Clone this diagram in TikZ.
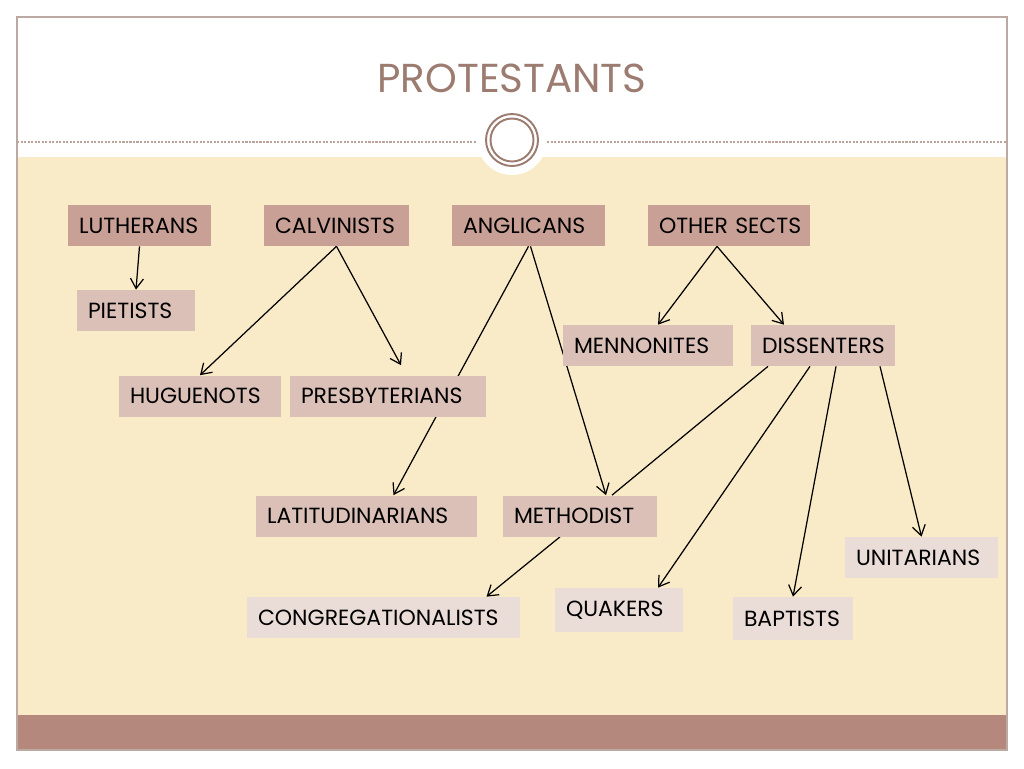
\documentclass[tikz,border=0pt]{standalone}
\usepackage{fontspec}
\setmainfont{Poppins}
\usetikzlibrary{arrows.meta}
\definecolor{beige}{HTML}{FAEBC8}
\definecolor{bar}{HTML}{B4887D}
\definecolor{brown}{HTML}{9C7B70}
\definecolor{frame}{HTML}{BCA9A1}
\definecolor{dark}{HTML}{C9A096}
\definecolor{mid}{HTML}{DBC0B7}
\definecolor{light}{HTML}{EADCD7}
\pgfdeclarelayer{back}
\pgfdeclarelayer{links}
\pgfsetlayers{back,links,main}
\tikzset{
  box/.style={inner xsep=0.22cm, inner ysep=0pt, minimum height=0.82cm, align=left, font=\fontsize{12.5}{15}\selectfont, text=black},
  top/.style={box, fill=dark},
  sub/.style={box, fill=mid},
  leaf/.style={box, fill=light},
  link/.style={black, line width=0.7pt},
  arr/.style={link, -{Straight Barb[length=2mm,width=2.6mm]}}
}
\begin{document}
\begin{tikzpicture}[x=0.02cm, y=-0.02cm]
\useasboundingbox (0,0) rectangle (1024,768);

\node[top, text width=2.42cm] (luth) at (139.5,225.5) {LUTHERANS};
\node[top, text width=2.46cm] (calv) at (336.5,225.5) {CALVINISTS};
\node[top, text width=2.62cm] (angl) at (528.5,225.5) {ANGLICANS};
\node[top, text width=2.80cm] (other) at (729,225.5) {OTHER~SECTS};
\node[sub, text width=1.92cm] (piet) at (136,310.5) {PIETISTS};
\node[sub, text width=2.96cm] (menn) at (648,345.5) {MENNONITES};
\node[sub, text width=2.44cm] (diss) at (823,345.5) {DISSENTERS};
\node[sub, text width=2.80cm] (hug) at (200,396) {HUGUENOTS};
\node[sub, text width=3.48cm] (pres) at (388,396) {PRESBYTERIANS};
\node[sub, text width=3.98cm] (lat) at (366.5,516) {LATITUDINARIANS};
\node[sub, text width=2.64cm] (meth) at (580,516) {METHODIST};
\node[leaf, text width=5.02cm] (cong) at (383.5,617.5) {CONGREGATIONALISTS};
\node[leaf, text width=2.12cm, minimum height=0.88cm] (quak) at (619,610) {QUAKERS};
\node[leaf, text width=2.62cm] (unit) at (921.5,557.5) {UNITARIANS};
\node[leaf, text width=1.96cm, minimum height=0.86cm] (bapt) at (793,618.5) {BAPTISTS};

\begin{pgfonlayer}{links}
\draw[arr] (luth.south) -- (piet.north);
\draw[arr] (calv.south) -- (hug.north);
\draw[arr] (calv.south) -- ([shift={(13,-10)}]pres.north);
\draw[arr] (angl.south) -- ([shift={(27,0)}]lat.north);
\draw[arr] ([shift={(2,0)}]angl.south) -- ([shift={(26,0)}]meth.north);
\draw[arr] ([shift={(-12,0)}]other.south) -- ([shift={(10,0)}]menn.north);
\draw[arr] ([shift={(-12,0)}]other.south) -- ([shift={(-39,0)}]diss.north);
\draw[link] ([shift={(-55,0)}]diss.south) -- ([shift={(32,0)}]meth.north);
\draw[arr] ([shift={(-13,0)}]diss.south) -- ([shift={(39,0)}]quak.north);
\draw[arr] ([shift={(13,0)}]diss.south) -- (bapt.north);
\draw[arr] ([shift={(57,0)}]diss.south) -- (unit.north);
\draw[arr] ([shift={(-20,0)}]meth.south) -- ([shift={(103,0)}]cong.north);
\end{pgfonlayer}

\begin{pgfonlayer}{back}
\fill[white] (0,0) rectangle (1024,768);
\fill[beige] (17,157) rectangle (1007,715);
\fill[bar] (17,715) rectangle (1007,750);
\draw[frame, line width=0.8pt] (17,17) rectangle (1007,750);
\draw[brown!70, line width=0.6pt, dash pattern=on 1.2pt off 0.8pt] (17,142) -- (485,142) (540,142) -- (1007,142);
\fill[white] (512,140) circle (35);
\draw[brown, line width=1.1pt] (512,140) circle (26) (512,140) circle (21.5);
\node[text=brown, font=\fontsize{23}{27}\selectfont] (title) at (512,78) {PROTESTANTS};
\end{pgfonlayer}
\end{tikzpicture}
\end{document}
